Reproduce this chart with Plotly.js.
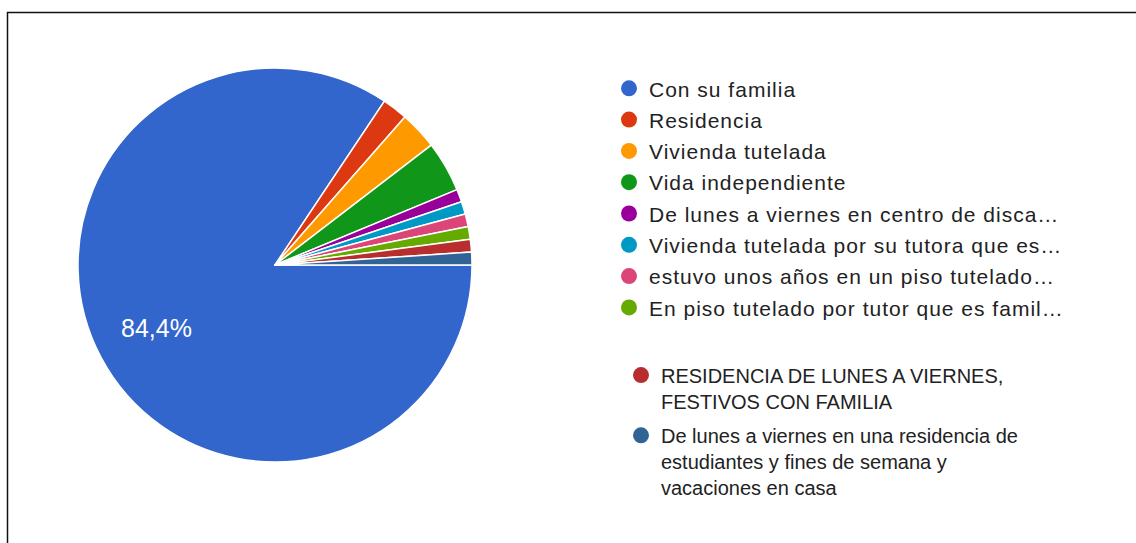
<!DOCTYPE html>
<html>
<head>
<meta charset="utf-8">
<script src="https://cdn.plot.ly/plotly-3.0.1.min.js"></script>
<style>
html,body{margin:0;padding:0;background:#fff;overflow:hidden}
#chart{width:1136px;height:543px}
/* slightly wider, hinted-looking legend text as in the reference */
#chart g.scrollbox{clip-path:none !important}
#chart text.legendtext{letter-spacing:1px}
</style>
</head>
<body>
<div id="chart"></div>
<script>
// ---- data ----
const categories = [
  "Con su familia",
  "Residencia",
  "Vivienda tutelada",
  "Vida independiente",
  "De lunes a viernes en centro de disca…",
  "Vivienda tutelada por su tutora que es…",
  "estuvo unos años en un piso tutelado…",
  "En piso tutelado por tutor que es famil…",
  "RESIDENCIA DE LUNES A VIERNES, FESTIVOS CON FAMILIA",
  "De lunes a viernes en una residencia de estudiantes y fines de semana y vacaciones en casa"
];
const legendLabels = [
  "Con su familia",
  "Residencia",
  "Vivienda tutelada",
  "Vida independiente",
  "De lunes a viernes en centro de disca…",
  "Vivienda tutelada por su tutora que es…",
  "estuvo unos años en un piso tutelado…",
  "En piso tutelado por tutor que es famil…",
  "RESIDENCIA DE LUNES A VIERNES,<br>FESTIVOS CON FAMILIA",
  "De lunes a viernes en una residencia de<br>estudiantes y fines de semana y<br>vacaciones en casa"
];
const responses = [81, 2, 3, 4, 1, 1, 1, 1, 1, 1];
const colors = ["#3366cc","#dc3912","#ff9900","#109618","#990099","#0099c6","#dd4477","#66aa00","#b82e2e","#316395"];
const firstPageCount = 8;

// ---- layout constants ----
const W = 1136, H = 543;
const pieCx = 275, pieCy = 265, pieR = 197;   // pixels (screen)
const rotationDeg = 90;
const labelRadiusFrac = 0.68;
const font1 = {family: "Liberation Sans, Arial, sans-serif", size: 21, color: "#222222"};
const font2 = {family: "Liberation Sans, Arial, sans-serif", size: 20, color: "#222222"};

const total = responses.reduce((a, b) => a + b, 0);

const pieTrace = {
  type: "pie",
  labels: categories,
  values: responses,
  marker: {colors: colors, line: {color: "#ffffff", width: 1.5}},
  sort: false,
  direction: "clockwise",
  rotation: rotationDeg,
  textinfo: "none",
  hoverinfo: "none",
  showlegend: false,
  domain: {x: [(pieCx - pieR) / W, (pieCx + pieR) / W],
           y: [(H - pieCy - pieR) / H, (H - pieCy + pieR) / H]}
};

// percentage label of the largest slice, placed at its mid-angle
const frac0 = responses[0] / total;
const midDeg = rotationDeg + frac0 * 360 / 2;
const midRad = midDeg * Math.PI / 180;
const lblX = pieCx + labelRadiusFrac * pieR * Math.sin(midRad);
const lblY = pieCy - labelRadiusFrac * pieR * Math.cos(midRad);
const pctText = (frac0 * 100).toFixed(1).replace(".", ",") + "%";

const legendTraces = categories.map((c, i) => ({
  type: "scatter",
  x: [null], y: [null],
  mode: "markers",
  name: legendLabels[i],
  marker: {color: colors[i], size: 16, symbol: "circle"},
  legend: i < firstPageCount ? "legend" : "legend2",
  legendgroup: "g" + i,
  hoverinfo: "none",
  showlegend: true
}));

const layout = {
  width: W, height: H,
  margin: {l: 0, r: 0, t: 0, b: 0, autoexpand: false},
  paper_bgcolor: "#ffffff",
  plot_bgcolor: "rgba(0,0,0,0)",
  separators: ",.",
  xaxis: {visible: false},
  yaxis: {visible: false},
  showlegend: true,
  legend: {
    x: 609 / W, xanchor: "left", y: 1 - 68.15 / H, yanchor: "top",
    font: font1, tracegroupgap: 1.0, bgcolor: "rgba(0,0,0,0)", valign: "middle"
  },
  legend2: {
    x: 621 / W, xanchor: "left", y: 1 - 355.56 / H, yanchor: "top",
    font: font2, tracegroupgap: 5.3, bgcolor: "rgba(0,0,0,0)", valign: "top"
  },
  annotations: [{
    xref: "paper", yref: "paper", x: lblX / W, y: 1 - lblY / H,
    xanchor: "center", yanchor: "middle", showarrow: false,
    text: pctText,
    font: {family: "Liberation Sans, Arial, sans-serif", size: 25, color: "#ffffff"}
  }],
  shapes: [
    {type: "line", xref: "paper", yref: "paper", x0: 7 / W, x1: 1, y0: 1 - 12.5 / H, y1: 1 - 12.5 / H,
     line: {color: "#111111", width: 1.5}},
    {type: "line", xref: "paper", yref: "paper", x0: 7.5 / W, x1: 7.5 / W, y0: 0, y1: 1 - 12 / H,
     line: {color: "#111111", width: 1.5}}
  ]
};

Plotly.newPlot("chart", [pieTrace].concat(legendTraces), layout, {displayModeBar: false, staticPlot: true});
</script>
</body>
</html>
